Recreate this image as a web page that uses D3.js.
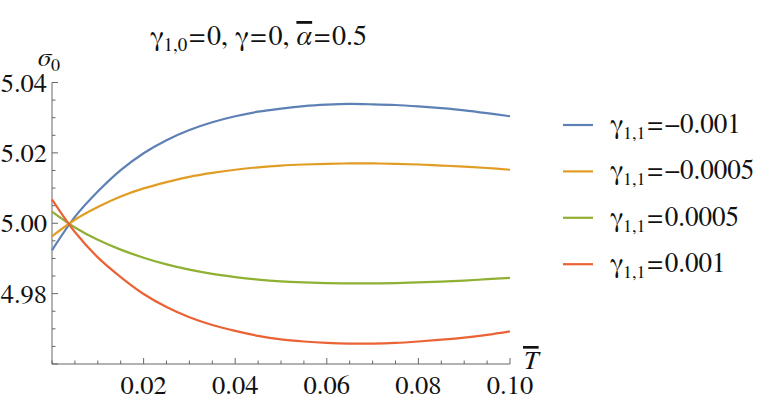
<!DOCTYPE html>
<html>
<head>
<meta charset="utf-8">
<script src="https://cdn.jsdelivr.net/npm/d3@7"></script>
<style>
  html, body { margin: 0; padding: 0; background: #fff; }
  svg { display: block; }
</style>
</head>
<body>
<svg id="chart" width="767" height="403"></svg>
<script>
// ---- data ----
const tValues = [0, 0.005, 0.01, 0.015, 0.02, 0.025, 0.03, 0.035, 0.04, 0.045, 0.05,
                 0.055, 0.06, 0.065, 0.07, 0.075, 0.08, 0.085, 0.09, 0.095, 0.1];
const seriesValues = ["\u22120.001", "\u22120.0005", "0.0005", "0.001"];
const blueVals   = [4.9923, 5.0018, 5.0090, 5.0151, 5.0199, 5.0236, 5.0265, 5.0287, 5.0304, 5.0317, 5.0326,
                    5.0333, 5.0337, 5.0339, 5.0338, 5.0336, 5.0332, 5.0327, 5.0321, 5.0313, 5.0304];
const orangeVals = [4.9963, 5.0010, 5.0046, 5.0076, 5.0099, 5.0117, 5.0132, 5.0143, 5.0152, 5.0159, 5.0164,
                    5.0167, 5.0169, 5.0170, 5.0170, 5.0169, 5.0167, 5.0164, 5.0161, 5.0157, 5.0152];
const greenVals  = [5.0033, 4.9988, 4.9953, 4.9925, 4.9902, 4.9883, 4.9868, 4.9856, 4.9847, 4.9840, 4.9835,
                    4.9832, 4.9830, 4.9829, 4.9829, 4.9830, 4.9832, 4.9834, 4.9837, 4.9841, 4.9845];
const redVals    = [5.0068, 4.9975, 4.9903, 4.9847, 4.9799, 4.9762, 4.9733, 4.9711, 4.9694, 4.9680, 4.9670,
                    4.9664, 4.9660, 4.9658, 4.9658, 4.9660, 4.9664, 4.9669, 4.9675, 4.9683, 4.9693];
const xMajorTicks = [0.02, 0.04, 0.06, 0.08, 0.10];
const yMajorTicks = [4.98, 5.00, 5.02, 5.04];
const colors = ["#5E81B5", "#E19C24", "#8FB032", "#EB6235"];

const allSeries = [blueVals, orangeVals, greenVals, redVals];

// ---- layout ----
const FONT = '"FreeSerif"';
const svg = d3.select("#chart");
const x = d3.scaleLinear().domain([0, 0.1]).range([52, 510]);
const y = d3.scaleLinear().domain([4.96, 5.04]).range([364, 82.5]);
const axisColor = "#666";
const FS = 26.5;
const SUB = 18;

function txt(sel) {
  return sel.append("text").attr("fill", "#111");
}
function tsp(t, s) {
  return t.append("tspan").style("font-family", FONT).text(s);
}

// axes lines
const axG = svg.append("g");
axG.append("line").attr("x1", x(0)).attr("x2", x(0.1)).attr("y1", y(4.96)).attr("y2", y(4.96))
  .attr("stroke", axisColor).attr("stroke-width", 1);
axG.append("line").attr("x1", x(0)).attr("x2", x(0)).attr("y1", y(4.96)).attr("y2", y(5.04))
  .attr("stroke", axisColor).attr("stroke-width", 1);

// x ticks
const xMinor = d3.range(0, 0.1001, 0.005);
axG.selectAll(".xt").data(xMinor).enter().append("line")
  .attr("x1", d => x(d)).attr("x2", d => x(d))
  .attr("y1", y(4.96))
  .attr("y2", d => y(4.96) - (Math.round(d * 1000) % 20 === 0 && d > 0 ? 6 : 3.5))
  .attr("stroke", axisColor).attr("stroke-width", 1);
xMajorTicks.forEach(d => {
  const t = txt(axG).attr("x", x(d)).attr("y", 394)
    .attr("text-anchor", "middle").attr("font-size", FS);
  tsp(t, d3.format(".2f")(d));
});

// y ticks
const yMinor = d3.range(4.96, 5.0401, 0.005);
axG.selectAll(".yt").data(yMinor).enter().append("line")
  .attr("x1", x(0)).attr("y1", d => y(d)).attr("y2", d => y(d))
  .attr("x2", d => x(0) + (Math.round(d * 1000) % 20 === 0 ? 6 : 3.5))
  .attr("stroke", axisColor).attr("stroke-width", 1);
yMajorTicks.forEach(d => {
  const t = txt(axG).attr("x", 47).attr("y", y(d) + 9)
    .attr("text-anchor", "end").attr("font-size", FS);
  tsp(t, d3.format(".2f")(d));
});

// axis labels
const yl = txt(svg).attr("x", 38).attr("y", 66).attr("font-size", FS);
tsp(yl, "\u03C3").attr("font-style", "italic");
tsp(yl, "0").attr("font-size", SUB).attr("dy", 5);

const xl = txt(svg).attr("x", 523).attr("y", 369).attr("font-size", FS);
tsp(xl, "T").attr("font-style", "italic").style("text-decoration", "overline");

// title
const title = txt(svg).attr("x", 150).attr("y", 45).attr("font-size", 28);
tsp(title, "\u03B3");
tsp(title, "1,0").attr("font-size", 19).attr("dy", 6);
tsp(title, "=").attr("dy", -6).attr("dx", 2);
tsp(title, "0, ").attr("dx", 2);
tsp(title, "\u03B3");
tsp(title, "=").attr("dx", 2);
tsp(title, "0, ").attr("dx", 2);
tsp(title, "\u03B1").attr("font-style", "italic").style("text-decoration", "overline");
tsp(title, "=").attr("dx", 2);
tsp(title, "0.5").attr("dx", 2);

// curves
const line = d3.line()
  .x((d, i) => x(tValues[i]))
  .y(d => y(d))
  .curve(d3.curveCatmullRom.alpha(0.5));

svg.append("g").selectAll("path").data(allSeries).enter().append("path")
  .attr("d", d => line(d))
  .attr("fill", "none")
  .attr("stroke", (d, i) => colors[i])
  .attr("stroke-width", 2.2);

// legend
const lg = svg.append("g");
seriesValues.forEach((v, i) => {
  const ly = 125 + i * 46.4;
  lg.append("line").attr("x1", 563).attr("x2", 593).attr("y1", ly).attr("y2", ly)
    .attr("stroke", colors[i]).attr("stroke-width", 2.2);
  const t = txt(lg).attr("x", 610).attr("y", ly + 8).attr("font-size", 27);
  tsp(t, "\u03B3");
  tsp(t, "1,1").attr("font-size", SUB).attr("dy", 6);
  tsp(t, "=").attr("dy", -6).attr("dx", 2);
  tsp(t, v).attr("dx", 2);
});
</script>
</body>
</html>
